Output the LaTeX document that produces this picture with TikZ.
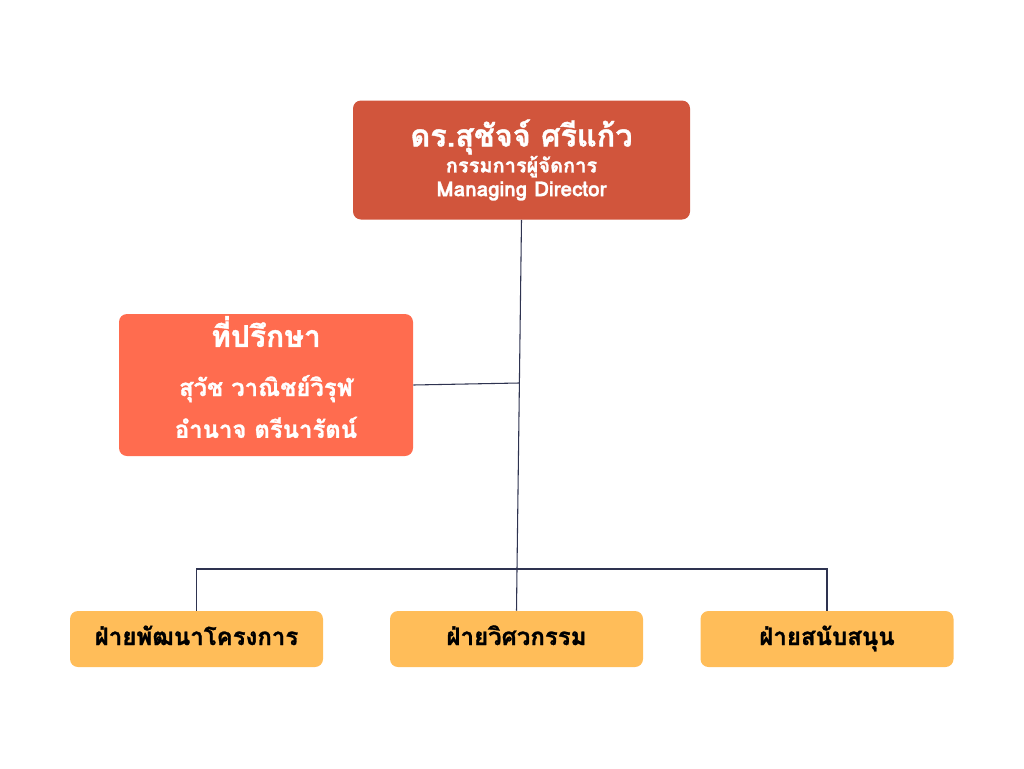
\documentclass[tikz,border=0pt]{standalone}
\usepackage{fontspec}
\newfontfamily\thaifont[Script=Thai, BoldFeatures={FakeBold=1.2}]{Loma}
\usepackage{tikz}
\usetikzlibrary{positioning,calc}
\definecolor{HeadRed}{HTML}{D1553C}
\definecolor{AdvOrange}{HTML}{FF6C4F}
\definecolor{DeptYellow}{HTML}{FFBD59}
\definecolor{LinkNavy}{HTML}{2E3350}

\begin{document}
\begin{tikzpicture}[
    x=0.75pt, y=-0.75pt,
    font=\thaifont\bfseries,
    head/.style={rectangle, rounded corners=6pt, fill=HeadRed, text=white, minimum width=252.75pt, minimum height=89.25pt, align=center, inner sep=0pt},
    advisor/.style={rectangle, rounded corners=6pt, fill=AdvOrange, text=white, minimum width=220.5pt, minimum height=106.5pt, align=center, inner sep=0pt},
    dept/.style={rectangle, rounded corners=6pt, fill=DeptYellow, text=black, minimum width=189.75pt, minimum height=42pt, align=center, inner sep=0pt, text height=13pt, text depth=4pt, font=\thaifont\bfseries\fontsize{18}{20}\selectfont},
    link/.style={draw=LinkNavy, line width=0.8pt}
]
\useasboundingbox (0,0) rectangle (1024,768);

\node[head] (md) at (521.5,160) {{\fontsize{23}{25}\selectfont ดร.สุชัจจ์ ศรีแก้ว}\\[0pt]
  {\fontsize{15}{17}\selectfont กรรมการผู้จัดการ}\\[2pt]
  {\fontsize{15.5}{17}\selectfont Managing Director}};
\node[advisor] (adv) at (266,385) {};
\node[text=white, align=center, inner sep=0pt] (advtext) at (266,377) {{\fontsize{22.5}{24}\selectfont ที่ปรึกษา}\\[20pt]
  {\fontsize{17.9}{19}\selectfont สุวัช วาณิชย์วิรุฬ}\\[10pt]
  {\fontsize{17.9}{19}\selectfont อำนาจ ตรีนารัตน์}};
\node[dept] (dev) at (196.5,639) {ฝ่ายพัฒนาโครงการ};
\node[dept] (eng) at (516.5,639) {ฝ่ายวิศวกรรม};
\node[dept] (sup) at (827,639) {ฝ่ายสนับสนุน};

\coordinate (bus) at (517,569);
\coordinate (advj) at (519,383);

\draw[link] (md.south) -- (bus);
\draw[link] (adv.east) -- (advj);
\draw[link] (dev.north) |- (bus) -| (sup.north);
\draw[link] (bus) -- (eng.north);
\end{tikzpicture}
\end{document}
